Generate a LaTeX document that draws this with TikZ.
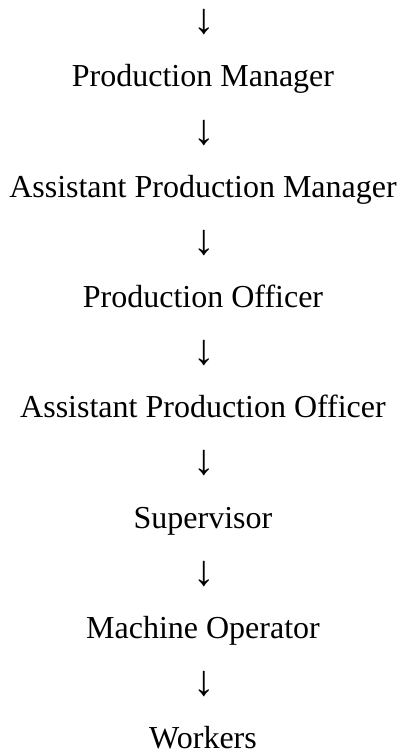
\documentclass[tikz,border=0pt]{standalone}
\usepackage{fontspec}
\setmainfont{Liberation Serif}

\begin{document}
\begin{tikzpicture}[x=1pt,y=1pt,
    rank/.style={anchor=base,inner sep=0pt,font=\fontsize{32}{38}\selectfont},
    down/.style={anchor=center,inner sep=0pt,font=\fontsize{43}{50}\selectfont}]
    \useasboundingbox (0,0) rectangle (405,756);
    \foreach \t [count=\i] in {Production Manager,Assistant Production Manager,
        Production Officer,Assistant Production Officer,Supervisor,
        Machine Operator,Workers}
    {
        \node[down] (down\i) at (204,{756-22.3-110.27*(\i-1)}) {↓};%arrow above each rank
        \node[rank] (rank\i) at (203,{756-87-110.27*(\i-1)}) {\t};
    }
\end{tikzpicture}
\end{document}
